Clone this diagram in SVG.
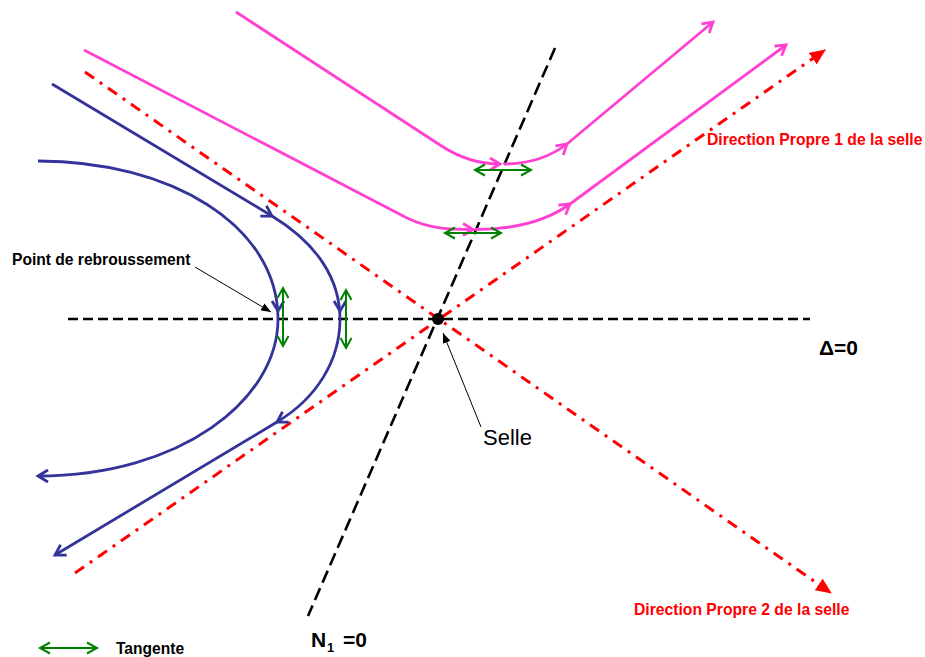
<svg xmlns="http://www.w3.org/2000/svg" width="925" height="657" viewBox="0 0 925 657">
<style>
  .bg{fill:#ffffff}
  .dash{fill:none;stroke:#000;stroke-width:2.6}
  .red{fill:none;stroke:#ff0000;stroke-width:3;stroke-dasharray:11 7 3 7}
  .blue{fill:none;stroke:#333399;stroke-width:2.8}
  .pink{fill:none;stroke:#ff40d0;stroke-width:2.8}
  .green{fill:none;stroke:#008000;stroke-width:2;marker-start:url(#mGreen);marker-end:url(#mGreen)}
  .dirB{fill:none;stroke:none;marker-end:url(#mBlue)}
  .dirP{fill:none;stroke:none;marker-end:url(#mPink)}
  .ann{fill:none;stroke:#000;stroke-width:1;marker-end:url(#mBlack)}
  .lbl{font-family:"Liberation Sans",Arial,sans-serif;font-weight:bold;fill:#000}
  .rlbl{font-family:"Liberation Sans",Arial,sans-serif;font-weight:bold;fill:#ff0000;font-size:15.7px}
</style>
<defs>
  <marker id="mBlue" viewBox="0 0 12 14" refX="11" refY="7" markerWidth="12" markerHeight="14" markerUnits="userSpaceOnUse" orient="auto" overflow="visible">
    <path d="M1,1 L11,7 L1,13" fill="none" stroke="#333399" stroke-width="2.8"/>
  </marker>
  <marker id="mPink" viewBox="0 0 12 14" refX="11" refY="7" markerWidth="12" markerHeight="14" markerUnits="userSpaceOnUse" orient="auto" overflow="visible">
    <path d="M1,1 L11,7 L1,13" fill="none" stroke="#ff40d0" stroke-width="2.8"/>
  </marker>
  <marker id="mGreen" viewBox="0 0 12 12" refX="11" refY="6" markerWidth="12" markerHeight="12" markerUnits="userSpaceOnUse" orient="auto-start-reverse" overflow="visible">
    <path d="M1,0.5 L11,6 L1,11.5" fill="none" stroke="#008000" stroke-width="2"/>
  </marker>
  <marker id="mRed" viewBox="0 0 16 14" refX="15" refY="7" markerWidth="16" markerHeight="14" markerUnits="userSpaceOnUse" orient="auto">
    <path d="M0,0 L16,7 L0,14 z" fill="#ff0000"/>
  </marker>
  <marker id="mBlack" viewBox="0 0 10 8" refX="10" refY="4" markerWidth="10" markerHeight="8" markerUnits="userSpaceOnUse" orient="auto">
    <path d="M0,0 L10,4 L0,8 z" fill="#000"/>
  </marker>
</defs>
<rect class="bg" x="0" y="0" width="925" height="657"/>

<g id="connectors">
  <path id="delta-line" class="dash" stroke-dasharray="10 5" d="M68,319 L810,319"/>
  <path id="n1-line" class="dash" stroke-dasharray="13 6" d="M555,48 L308,616"/>
  <path id="dir1" class="red" marker-end="url(#mRed)" d="M75,573 L825,50"/>
  <path id="dir2" class="red" marker-end="url(#mRed)" d="M85,72 L831,593"/>
  <path id="blue-outer" class="blue" d="M38,161 C170,161 278,225 278,319 C278,400 180,476 38,476"/>
  <path id="blue-inner" class="blue" d="M52,84 L272,216 C318,244 340,280 340,319 C340,360 317,398 277,422 L55,555"/>
  <path class="dirB" d="M278,307 L278,311"/>
  <path class="dirB" d="M42,476 L38,476"/>
  <path class="dirB" d="M268.6,214 L272,216"/>
  <path class="dirB" d="M340,307 L340,311"/>
  <path class="dirB" d="M280.4,420 L277,422"/>
  <path class="dirB" d="M58.4,553 L55,555"/>
  <path id="pink-upper" class="pink" d="M236,12 L440,145 C464,161 485,164 500,164 M504,164 C528,164 550,157 567,144 L713,22"/>
  <path id="pink-lower" class="pink" d="M84,50 L407,218 C430,229 450,229.5 473,229.5 M475,229.5 C512,229.5 545,222 570,204 L786,45"/>
  <path class="dirP" d="M496,164 L500,164"/>
  <path class="dirP" d="M563.9,146.6 L567,144"/>
  <path class="dirP" d="M709.9,24.6 L713,22"/>
  <path class="dirP" d="M469,229.5 L473,229.5"/>
  <path class="dirP" d="M566.8,206.4 L570,204"/>
  <path class="dirP" d="M782.8,47.4 L786,45"/>
  <path class="green" d="M475,170 L531,170"/>
  <path class="green" d="M445,233 L501,233"/>
  <path class="green" d="M283,288 L283,346"/>
  <path class="green" d="M346,290 L346,348"/>
  <path class="green" d="M40,648 L97,648"/>
  <path class="ann" d="M195,267 L271,312"/>
  <path class="ann" d="M481,427 L443,333"/>
</g>

<g id="saddle">
  <circle cx="438" cy="319" r="6" fill="#000"/>
  <text x="483" y="445" font-family="Liberation Sans,Arial,sans-serif" font-size="22" fill="#000">Selle</text>
</g>
<g id="label-rebroussement">
  <text class="lbl" x="12" y="265" font-size="15.6">Point de rebroussement</text>
</g>
<g id="label-delta">
  <text class="lbl" x="819" y="355" font-size="21">Δ=0</text>
</g>
<g id="label-n1">
  <text class="lbl" x="311" y="647" font-size="21">N</text>
  <text class="lbl" x="327" y="652" font-size="13">1</text>
  <text class="lbl" x="343" y="647" font-size="21">=0</text>
</g>
<g id="label-dir1">
  <text class="rlbl" x="707" y="145">Direction Propre 1 de la selle</text>
</g>
<g id="label-dir2">
  <text class="rlbl" x="634" y="615">Direction Propre 2 de la selle</text>
</g>
<g id="legend">
  <text class="lbl" x="116" y="654" font-size="15.6">Tangente</text>
</g>
</svg>
